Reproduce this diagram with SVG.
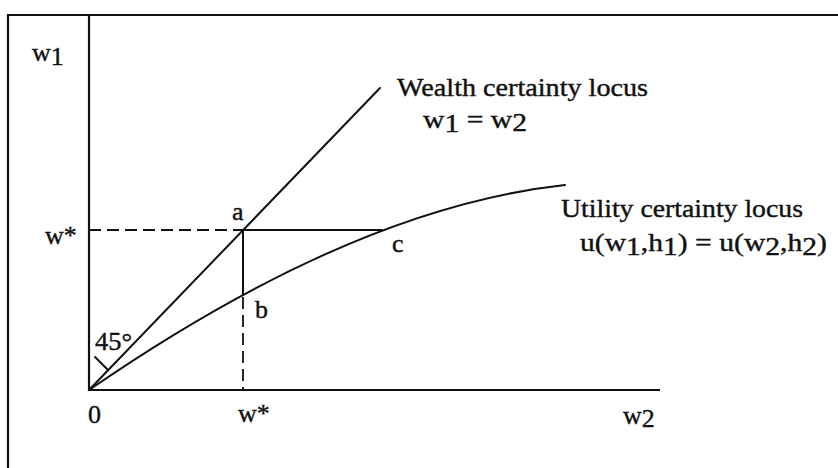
<svg xmlns="http://www.w3.org/2000/svg" width="838" height="468" viewBox="0 0 838 468">
<style>
.ln{stroke:#111;stroke-width:2;fill:none;stroke-linecap:round}
.ax{stroke:#111;stroke-width:2.2;fill:none}
.ds{stroke:#111;stroke-width:1.8;fill:none;stroke-dasharray:12 6}
.t{font-family:"Liberation Serif","Times New Roman",serif;font-size:26px;fill:#111;stroke:#111;stroke-width:0.4}
</style>
<rect width="838" height="468" fill="#fff"/>
<g id="frame">
<path class="ax" d="M8,468 V15 H838"/>
</g>
<g id="axes">
<path class="ax" d="M89,15 V390 H660"/>
</g>
<g id="connectors">
<path id="wealth-locus" class="ln" d="M89,390 L380,88"/>
<path id="utility-locus" class="ln" d="M89,390 Q353,208 565,185"/>
<path class="ds" d="M89,230 H243"/>
<path class="ln" d="M243,230 H382"/>
<path class="ln" d="M243,230 V295"/>
<path class="ds" d="M243,297 V390"/>
<path class="ln" d="M95,357 L108,370" stroke-width="1.5"/>
</g>
<g id="labels">
<text class="t" x="32" y="61">w<tspan dy="4">1</tspan></text>
<text class="t" x="45" y="244">w*</text>
<text class="t" x="88" y="423">0</text>
<text class="t" x="238" y="422">w*</text>
<text class="t" x="623" y="424">w<tspan dy="3">2</tspan></text>
<text class="t" x="232" y="220">a</text>
<text class="t" x="255" y="318">b</text>
<text class="t" x="392" y="252">c</text>
<text class="t" x="95" y="350" textLength="37" lengthAdjust="spacingAndGlyphs">45°</text>
</g>
<g id="wealth-label">
<text class="t" x="397" y="96" textLength="251" lengthAdjust="spacingAndGlyphs">Wealth certainty locus</text>
<text class="t" x="423" y="128" textLength="104" lengthAdjust="spacingAndGlyphs">w<tspan dy="4">1</tspan><tspan dy="-4"> = w</tspan><tspan dy="3">2</tspan></text>
</g>
<g id="utility-label">
<text class="t" x="561" y="217" textLength="242" lengthAdjust="spacingAndGlyphs">Utility certainty locus</text>
<text class="t" x="580" y="251" textLength="247" lengthAdjust="spacingAndGlyphs">u(w<tspan dy="4">1</tspan><tspan dy="-4">,h</tspan><tspan dy="4">1</tspan><tspan dy="-4">) = u(w</tspan><tspan dy="4">2</tspan><tspan dy="-4">,h</tspan><tspan dy="4">2</tspan><tspan dy="-4">)</tspan></text>
</g>
</svg>
